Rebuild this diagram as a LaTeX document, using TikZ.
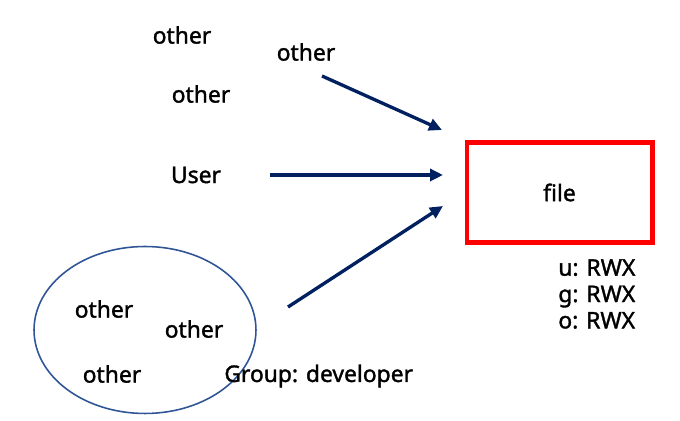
\documentclass[tikz,border=0pt]{standalone}
\usepackage{fontspec}
\setmainfont{Noto Sans}
\newfontfamily\lblfont{Noto Sans}[FakeBold=1.5]
\usetikzlibrary{arrows.meta, positioning, shapes.geometric}
\definecolor{navy}{HTML}{002060}
\definecolor{groupline}{HTML}{2F5597}
\definecolor{filered}{HTML}{FF0000}

\begin{document}
\begin{tikzpicture}[
      x=0.02cm, y=-0.02cm,
      lbl/.style={inner sep=0pt, font=\lblfont\fontsize{13}{15}\selectfont},
      filebox/.style={rectangle, draw=filered, line width=2.3pt,
                  minimum width=3.72cm, minimum height=2.0cm, font=\lblfont\fontsize{13}{15}\selectfont},
      grp/.style={ellipse, draw=groupline, line width=0.9pt,
                  minimum width=4.44cm, minimum height=3.34cm},
      arr/.style={-{Triangle[length=2.6mm, width=2.4mm]}, line width=1.9pt, navy}
    ]
      \useasboundingbox (0,0) rectangle (680,421);
      % people outside
      \node[lbl] (oth1) at (182,35) {other};
      \node[lbl] (oth2) at (306,52) {other};
      \node[lbl] (oth3) at (201,94) {other};
      \node[lbl] (user) at (196,175) {User};
      % the group
      \node[grp] (dev) at (145,330) {};
      \node[lbl] (oth4) at (104,309) {other};
      \node[lbl] (oth5) at (194,329) {other};
      \node[lbl] (oth6) at (112,374) {other};
      \node[lbl, anchor=west] (grpname) at (224,376) {Group: developer};
      % the file
      \node[filebox] (file) at (559.5,192.5) {file};
      \node[lbl, anchor=north west, align=left] (perm) at (558,259)
        {u: RWX\\[0pt]g: RWX\\[0pt]o: RWX};
      % arrows
      \coordinate (t1) at (322,76);
      \coordinate (h1) at (442,130);
      \coordinate (t2) at (270,175);
      \coordinate (h2) at (443,175);
      \coordinate (t3) at (288,307);
      \coordinate (h3) at (443,206);
      \draw[arr] (t1) -- (h1);
      \draw[arr] (t2) -- (h2);
      \draw[arr] (t3) -- (h3);
    \end{tikzpicture}
\end{document}
